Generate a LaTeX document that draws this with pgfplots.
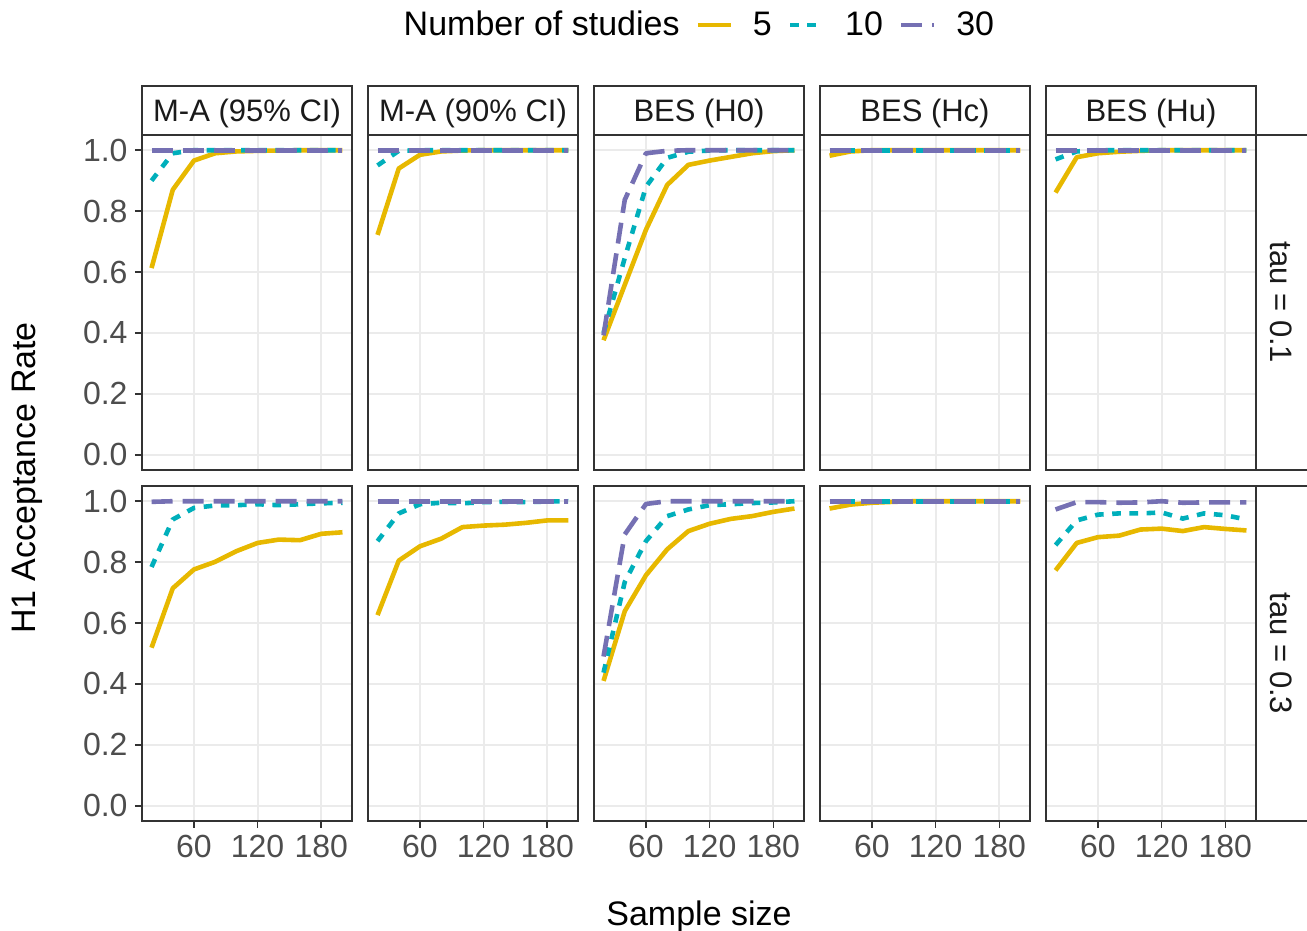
\documentclass[border=0pt]{standalone}
\usepackage{fontspec}
\setmainfont{Liberation Sans}
\usepackage{pgfplots}
\usepackage{pgfplotstable}
\pgfplotsset{compat=1.18}
\definecolor{cfive}{HTML}{E7B800}
\definecolor{cten}{HTML}{00AFBB}
\definecolor{cthirty}{HTML}{7570B3}
\definecolor{gtwenty}{HTML}{333333}
\definecolor{gthirty}{HTML}{4D4D4D}
\definecolor{gten}{HTML}{1A1A1A}
\definecolor{ggrid}{HTML}{EBEBEB}

% row 1: tau = 0.1
\pgfplotstableread{
n a b c
20 0.613 0.900 1.000
40 0.870 0.990 1.000
60 0.966 1.000 1.000
80 0.990 1.000 1.000
100 0.996 1.000 1.000
120 0.998 1.000 1.000
140 0.999 1.000 1.000
160 1.000 1.000 1.000
180 1.000 1.000 1.000
200 1.000 1.000 1.000
}\tAa
\pgfplotstableread{
n a b c
20 0.722 0.950 1.000
40 0.940 0.998 1.000
60 0.985 1.000 1.000
80 0.996 1.000 1.000
100 0.999 1.000 1.000
120 1.000 1.000 1.000
140 1.000 1.000 1.000
160 1.000 1.000 1.000
180 1.000 1.000 1.000
200 1.000 1.000 1.000
}\tAb
\pgfplotstableread{
n a b c
20 0.376 0.400 0.392
40 0.558 0.646 0.837
60 0.739 0.880 0.990
80 0.886 0.975 0.998
100 0.952 0.995 1.000
120 0.966 0.999 1.000
140 0.978 1.000 1.000
160 0.990 1.000 1.000
180 0.997 1.000 1.000
200 1.000 1.000 1.000
}\tAc
\pgfplotstableread{
n a b c
20 0.982 1.000 1.000
40 0.996 1.000 1.000
60 1.000 1.000 1.000
80 1.000 1.000 1.000
100 1.000 1.000 1.000
120 1.000 1.000 1.000
140 1.000 1.000 1.000
160 1.000 1.000 1.000
180 1.000 1.000 1.000
200 1.000 1.000 1.000
}\tAd
\pgfplotstableread{
n a b c
20 0.861 0.970 1.000
40 0.977 0.996 1.000
60 0.990 1.000 1.000
80 0.995 1.000 1.000
100 0.998 1.000 1.000
120 1.000 1.000 1.000
140 1.000 1.000 1.000
160 1.000 1.000 1.000
180 1.000 1.000 1.000
200 1.000 1.000 1.000
}\tAe
% row 2: tau = 0.3
\pgfplotstableread{
n a b c
20 0.519 0.784 0.998
40 0.714 0.940 1.000
60 0.776 0.978 1.000
80 0.801 0.986 1.000
100 0.836 0.987 1.000
120 0.863 0.990 1.000
140 0.874 0.987 1.000
160 0.872 0.990 1.000
180 0.893 0.993 1.000
200 0.898 0.995 1.000
}\tBa
\pgfplotstableread{
n a b c
20 0.626 0.869 1.000
40 0.805 0.960 1.000
60 0.852 0.990 1.000
80 0.877 0.995 1.000
100 0.915 0.993 1.000
120 0.920 0.997 1.000
140 0.923 0.998 1.000
160 0.929 0.997 1.000
180 0.937 0.999 1.000
200 0.937 1.000 1.000
}\tBb
\pgfplotstableread{
n a b c
20 0.410 0.437 0.490
40 0.639 0.735 0.891
60 0.757 0.869 0.991
80 0.842 0.951 1.000
100 0.902 0.973 1.000
120 0.926 0.987 1.000
140 0.942 0.990 1.000
160 0.951 0.994 1.000
180 0.965 0.996 1.000
200 0.976 1.000 1.000
}\tBc
\pgfplotstableread{
n a b c
20 0.976 1.000 1.000
40 0.989 1.000 1.000
60 0.995 1.000 1.000
80 0.998 1.000 1.000
100 1.000 1.000 1.000
120 1.000 1.000 1.000
140 1.000 1.000 1.000
160 1.000 1.000 1.000
180 1.000 1.000 1.000
200 1.000 1.000 1.000
}\tBd
\pgfplotstableread{
n a b c
20 0.773 0.856 0.973
40 0.863 0.937 0.997
60 0.882 0.956 0.997
80 0.887 0.960 0.995
100 0.907 0.960 0.996
120 0.910 0.963 1.000
140 0.902 0.943 0.995
160 0.915 0.960 0.996
180 0.909 0.954 0.996
200 0.904 0.940 0.996
}\tBe

\pgfplotsset{
  panel/.style={
    width=105pt, height=167.5pt, scale only axis,
    anchor=south west,
    xmin=11, xmax=209, ymin=-0.05, ymax=1.05,
    xtick={60,120,180}, ytick={0,0.2,0.4,0.6,0.8,1},
    xticklabels={}, yticklabels={},
    xtick pos=left, ytick pos=left,
    grid=major, major grid style={draw=ggrid, line width=1pt},
    axis line style={draw=gtwenty, line width=0.75pt},
    tick align=outside, major tick length=3.5pt,
    tick style={draw=gtwenty, line width=0.75pt},
    xtick style={draw=none}, ytick style={draw=none},
    ticklabel style={font=\fontsize{16}{19}\selectfont, text=gthirty},
  },
  leftcol/.style={ytick style={draw=gtwenty, line width=0.75pt},
    yticklabels={0.0,0.2,0.4,0.6,0.8,1.0},
    yticklabel style={xshift=-0.2pt}},
  bottomrow/.style={xtick style={draw=gtwenty, line width=0.75pt},
    xticklabels={60,120,180}},
  sfive/.style={cfive, line width=2.3pt, line join=round},
  sten/.style={cten, line width=2.3pt, line join=round, dash pattern=on 4.3pt off 4.3pt},
  sthirty/.style={cthirty, line width=2.3pt, line join=round, dash pattern=on 10.5pt off 5pt},
}

\newcommand{\panelplots}[1]{%
  \addplot[sfive] table[x=n,y=a]{#1};
  \addplot[sten] table[x=n,y=b]{#1};
  \addplot[sthirty] table[x=n,y=c]{#1};
}

\begin{document}
\begin{tikzpicture}
\path[use as bounding box] (0pt,0pt) rectangle (653.5pt,465.5pt);

% ---- row 1
\begin{axis}[panel, leftcol, at={(71pt,230.5pt)},
  legend image code/.code={\draw[#1] (0pt,0pt) -- (16.5pt,0pt); \path[draw=none] (0pt,0pt) -- (25.5pt,0pt);},
  legend style={draw=none, fill=none, at={(2.652,1.328)}, anchor=center,
    legend columns=4, font=\fontsize{17}{20}\selectfont, text=black,
    /tikz/every even column/.append style={column sep=6pt},
    /tikz/column 2/.style={column sep=10pt}},
  legend cell align=left]
  \addlegendimage{empty legend}
  \addlegendentry{Number of studies}
  \addplot[sfive] table[x=n,y=a]{\tAa}; \addlegendentry{5}
  \addplot[sten] table[x=n,y=b]{\tAa}; \addlegendentry{10}
  \addplot[sthirty] table[x=n,y=c]{\tAa}; \addlegendentry{30}
\end{axis}
\begin{axis}[panel, at={(184pt,230.5pt)}]
  \panelplots{\tAb}
\end{axis}
\begin{axis}[panel, at={(297pt,230.5pt)}]
  \panelplots{\tAc}
\end{axis}
\begin{axis}[panel, at={(410pt,230.5pt)}]
  \panelplots{\tAd}
\end{axis}
\begin{axis}[panel, at={(523pt,230.5pt)}]
  \panelplots{\tAe}
\end{axis}

% ---- row 2
\begin{axis}[panel, leftcol, bottomrow, at={(71pt,55pt)}]
  \panelplots{\tBa}
\end{axis}
\begin{axis}[panel, bottomrow, at={(184pt,55pt)}]
  \panelplots{\tBb}
\end{axis}
\begin{axis}[panel, bottomrow, at={(297pt,55pt)}]
  \panelplots{\tBc}
\end{axis}
\begin{axis}[panel, bottomrow, at={(410pt,55pt)}]
  \panelplots{\tBd}
\end{axis}
\begin{axis}[panel, bottomrow, at={(523pt,55pt)}]
  \panelplots{\tBe}
\end{axis}

% ---- strips
\foreach \xl/\lab in {71/{M-A (95\% CI)},184/{M-A (90\% CI)},297/{BES (H0)},410/{BES (Hc)},523/{BES (Hu)}}{
  \draw[gtwenty, line width=0.75pt, fill=white] (\xl pt,398pt) rectangle ++(105pt,24.5pt);
  \node[text=gten, font=\fontsize{15.5}{18}\selectfont, inner sep=0pt] at ([xshift=52.5pt]\xl pt,408.6pt) {\lab};
}
\draw[gtwenty, line width=0.75pt, fill=white] (628pt,230.5pt) rectangle (660pt,398pt);
\draw[gtwenty, line width=0.75pt, fill=white] (628pt,55pt) rectangle (660pt,222.5pt);
\node[text=gten, font=\fontsize{15.5}{18}\selectfont, rotate=-90, inner sep=0pt] at (640.8pt,314.25pt) {tau = 0.1};
\node[text=gten, font=\fontsize{15.5}{18}\selectfont, rotate=-90, inner sep=0pt] at (640.8pt,138.75pt) {tau = 0.3};

% ---- axis titles
\node[font=\fontsize{17}{20}\selectfont, rotate=90, inner sep=0pt] at (13.5pt,226.5pt) {H1 Acceptance Rate};
\node[font=\fontsize{17}{20}\selectfont, anchor=base, inner sep=0pt] at (349.5pt,2.5pt) {Sample size};
\end{tikzpicture}
\end{document}
